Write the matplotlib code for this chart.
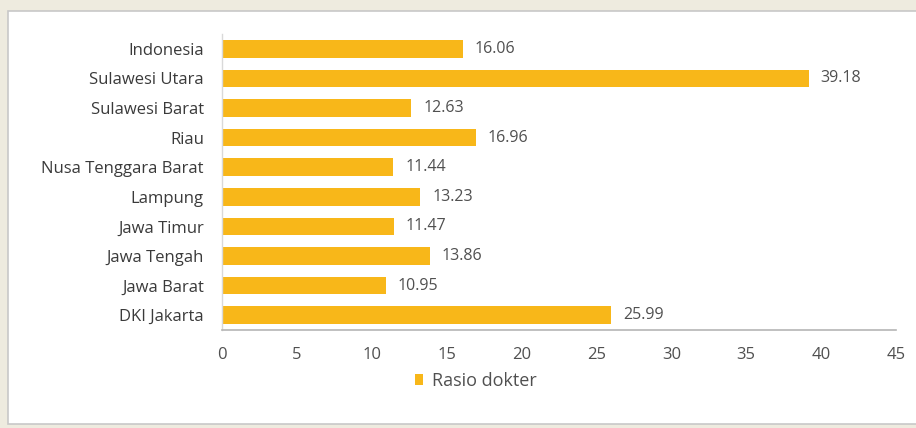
import matplotlib.pyplot as plt
from matplotlib.patches import Rectangle

# Rasio dokter per provinsi (ditampilkan dari bawah ke atas)
provinsi = ["DKI Jakarta", "Jawa Barat", "Jawa Tengah", "Jawa Timur", "Lampung",
            "Nusa Tenggara Barat", "Riau", "Sulawesi Barat", "Sulawesi Utara", "Indonesia"]
rasio = [25.99, 10.95, 13.86, 11.47, 13.23, 11.44, 16.96, 12.63, 39.18, 16.06]
x_ticks = [0, 5, 10, 15, 20, 25, 30, 35, 40, 45]

BAR_COLOR = "#f8b719"
TEXT_COLOR = "#505050"
FONT = "Open Sans"

W, H = 916, 428
fig = plt.figure(figsize=(W / 100, H / 100), dpi=100)
fig.patch.set_facecolor("#eeebdf")

# white chart panel with a thin grey frame, kept behind the axes
panel = Rectangle((8 / W, 4 / H), 1.0, 1 - 15 / H, transform=fig.transFigure,
                  facecolor="white", edgecolor="#c8c8c8", linewidth=1.2, zorder=-10)
fig.patches.append(panel)

ax = fig.add_axes([222 / W, 1 - 330 / H, (896 - 222) / W, (330 - 34) / H])
ax.set_facecolor("none")

y = range(len(provinsi))
bars = ax.barh(y, rasio, height=0.6, color=BAR_COLOR, label="Rasio dokter", zorder=2)

for yi, v in zip(y, rasio):
    ax.text(v + 0.8, yi, f"{v:.2f}", va="center", ha="left",
            fontsize=11.5, color=TEXT_COLOR, family=FONT)

ax.set_xlim(0, 45)
ax.set_ylim(-0.5, len(provinsi) - 0.5)
ax.set_xticks(x_ticks)
ax.set_xticklabels([str(t) for t in x_ticks], family=FONT, fontsize=12, color=TEXT_COLOR)
ax.set_yticks(list(y))
ax.set_yticklabels(provinsi, family=FONT, fontsize=12, color="#3a3a3a")
ax.tick_params(axis="x", length=0, pad=12)
ax.tick_params(axis="y", length=0, pad=13)

for side in ("top", "right"):
    ax.spines[side].set_visible(False)
ax.spines["bottom"].set_color("#b5b5b5")
ax.spines["bottom"].set_linewidth(1.2)
ax.spines["left"].set_color("#d9d9d9")
ax.spines["left"].set_linewidth(1.0)

fig.legend(handles=[bars], labels=["Rasio dokter"], loc="center",
           bbox_to_anchor=(476 / W, 1 - 381 / H), frameon=False,
           handlelength=0.45, handleheight=0.6, handletextpad=0.5,
           prop={"family": FONT, "size": 13}, labelcolor=TEXT_COLOR)

fig.savefig("out.png", dpi=100, facecolor=fig.get_facecolor())
